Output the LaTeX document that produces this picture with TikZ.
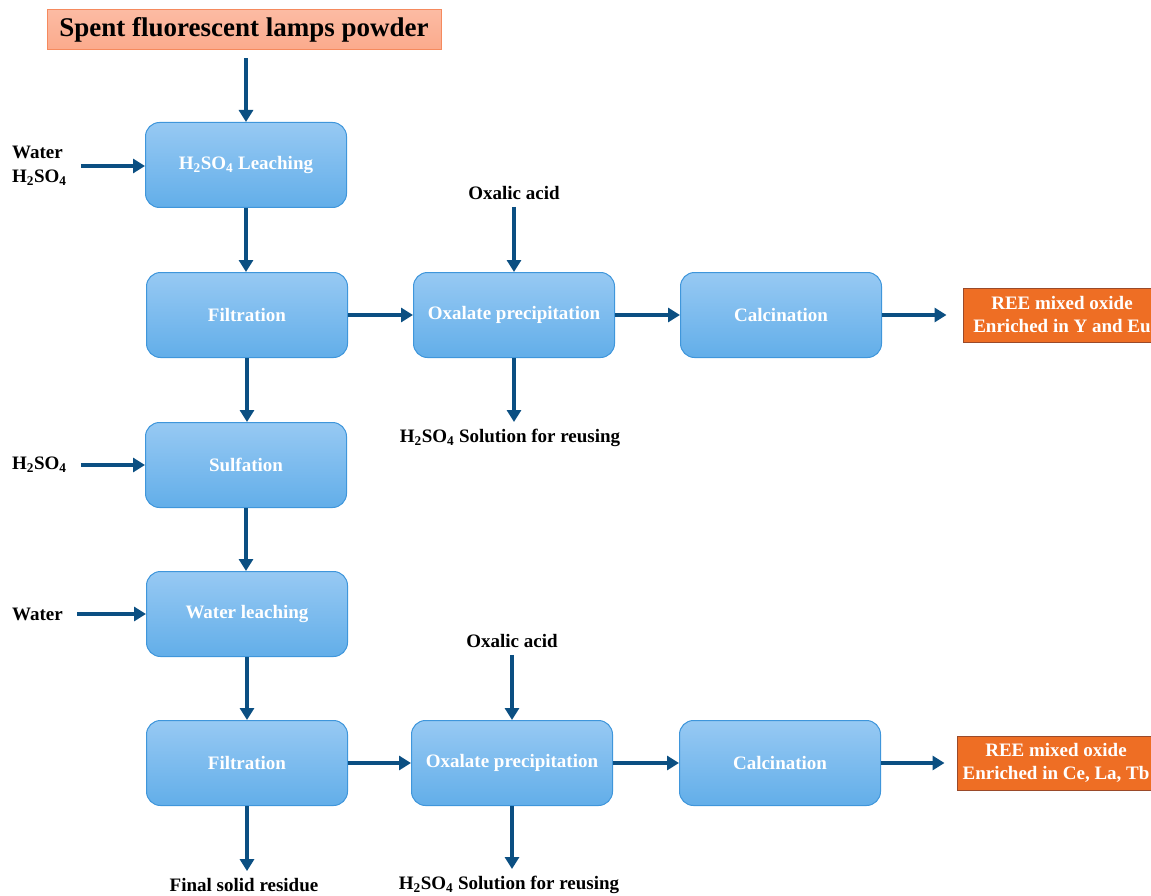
\documentclass[tikz,border=0pt]{standalone}
\usepackage{fontspec}
\setmainfont{Liberation Serif}
\usetikzlibrary{arrows.meta}
\definecolor{flow}{HTML}{0B4F82}
\definecolor{boxtop}{HTML}{97C9F3}
\definecolor{boxbot}{HTML}{62AEE9}
\definecolor{boxedge}{HTML}{3F96DB}
\definecolor{prodfill}{HTML}{EE6E24}
\definecolor{prodedge}{HTML}{9A4A2A}
\definecolor{feedfill}{HTML}{FBAA8C}
\definecolor{feededge}{HTML}{F58A5E}
\newcommand\hso{H\textsubscript{2}SO\textsubscript{4}}
\tikzset{
	proc/.style={draw=boxedge, line width=1pt, rounded corners=14pt, top color=boxtop, bottom color=boxbot,
		minimum width=201pt, minimum height=85pt, text=white, font=\fontsize{19}{22}\selectfont\bfseries},
	prod/.style={draw=prodedge, line width=1pt, fill=prodfill, minimum width=198pt, minimum height=54pt,
		text=white, align=center, inner sep=2pt, font=\fontsize{19}{23}\selectfont\bfseries},
	lbl/.style={inner sep=2pt, font=\fontsize{19}{24}\selectfont\bfseries},
	flowarrow/.style={draw=flow, line width=4pt, -{Triangle[length=12pt,width=14pt]}}
}
\begin{document}
\begin{tikzpicture}[x=1pt,y=-1pt]
	\path[use as bounding box] (0,0) rectangle (1151,896);
	\clip (0,0) rectangle (1151,896);
	\node[draw=feededge, line width=1pt, top color=feedfill!80!white, bottom color=feedfill, minimum width=394pt, minimum height=40pt,
		font=\fontsize{27}{30}\selectfont\bfseries] (lamp) at (244,30) {Spent fluorescent lamps powder};
	% process boxes
	\node[proc] (leach) at (246,165) {\hso{} Leaching};
	\node[proc] (filtA) at (247,315) {Filtration};
	\node[proc] (oxA) at (514,315) {Oxalate precipitation};
	\node[proc] (calA) at (781,315) {Calcination};
	\node[prod] (reeA) at (1062,315) {REE mixed oxide\\Enriched in Y and Eu};
	\node[proc] (sulf) at (246,465) {Sulfation};
	\node[proc] (wleach) at (247,614) {Water leaching};
	\node[proc] (filtB) at (247,763) {Filtration};
	\node[proc] (oxB) at (512,763) {Oxalate precipitation};
	\node[proc] (calB) at (780,763) {Calcination};
	\node[prod] (reeB) at (1056,763) {REE mixed oxide\\Enriched in Ce, La, Tb};
	% inputs and outputs
	\node[lbl, anchor=west, align=left] (inA) at (10,166) {Water\\\hso};
	\node[lbl, anchor=west] (inB) at (10,465) {\hso};
	\node[lbl, anchor=west] (inC) at (10,614) {Water};
	\node[lbl] (oxacA) at (514,193) {Oxalic acid};
	\node[lbl] (solA) at (510,438) {\hso{} Solution for reusing};
	\node[lbl] (oxacB) at (512,641) {Oxalic acid};
	\node[lbl] (solB) at (509,885) {\hso{} Solution for reusing};
	\node[lbl] (resid) at (244,885) {Final solid residue};
	% arrows
	\draw[flowarrow, shorten <=8pt] (lamp.south -| leach.north) -- (leach.north);
	\foreach \a/\b in {leach/filtA, filtA/sulf, sulf/wleach, wleach/filtB} \draw[flowarrow] (\a.south) -- (\a.south |- \b.north);
	\foreach \a/\b in {inA/leach, inB/sulf, inC/wleach} \draw[flowarrow] (\a.east) ++(12,0) -- (\a.east -| \b.west);
	\foreach \a/\b in {filtA/oxA, oxA/calA, filtB/oxB, oxB/calB} \draw[flowarrow] (\a.east) -- (\b.west);
	\draw[flowarrow, shorten >=16pt] (calA.east) -- (reeA.west);
	\draw[flowarrow, shorten >=12pt] (calB.east) -- (reeB.west);
	\draw[flowarrow, shorten <=5pt] (oxacA.south) -- (oxA.north);
	\draw[flowarrow, shorten <=5pt] (oxacB.south) -- (oxB.north);
	\draw[flowarrow, shorten >=5pt] (oxA.south) -- (oxA.south |- solA.north);
	\draw[flowarrow, shorten >=5pt] (oxB.south) -- (oxB.south |- solB.north);
	\draw[flowarrow, shorten >=5pt] (filtB.south) -- (filtB.south |- resid.north);
\end{tikzpicture}
\end{document}
